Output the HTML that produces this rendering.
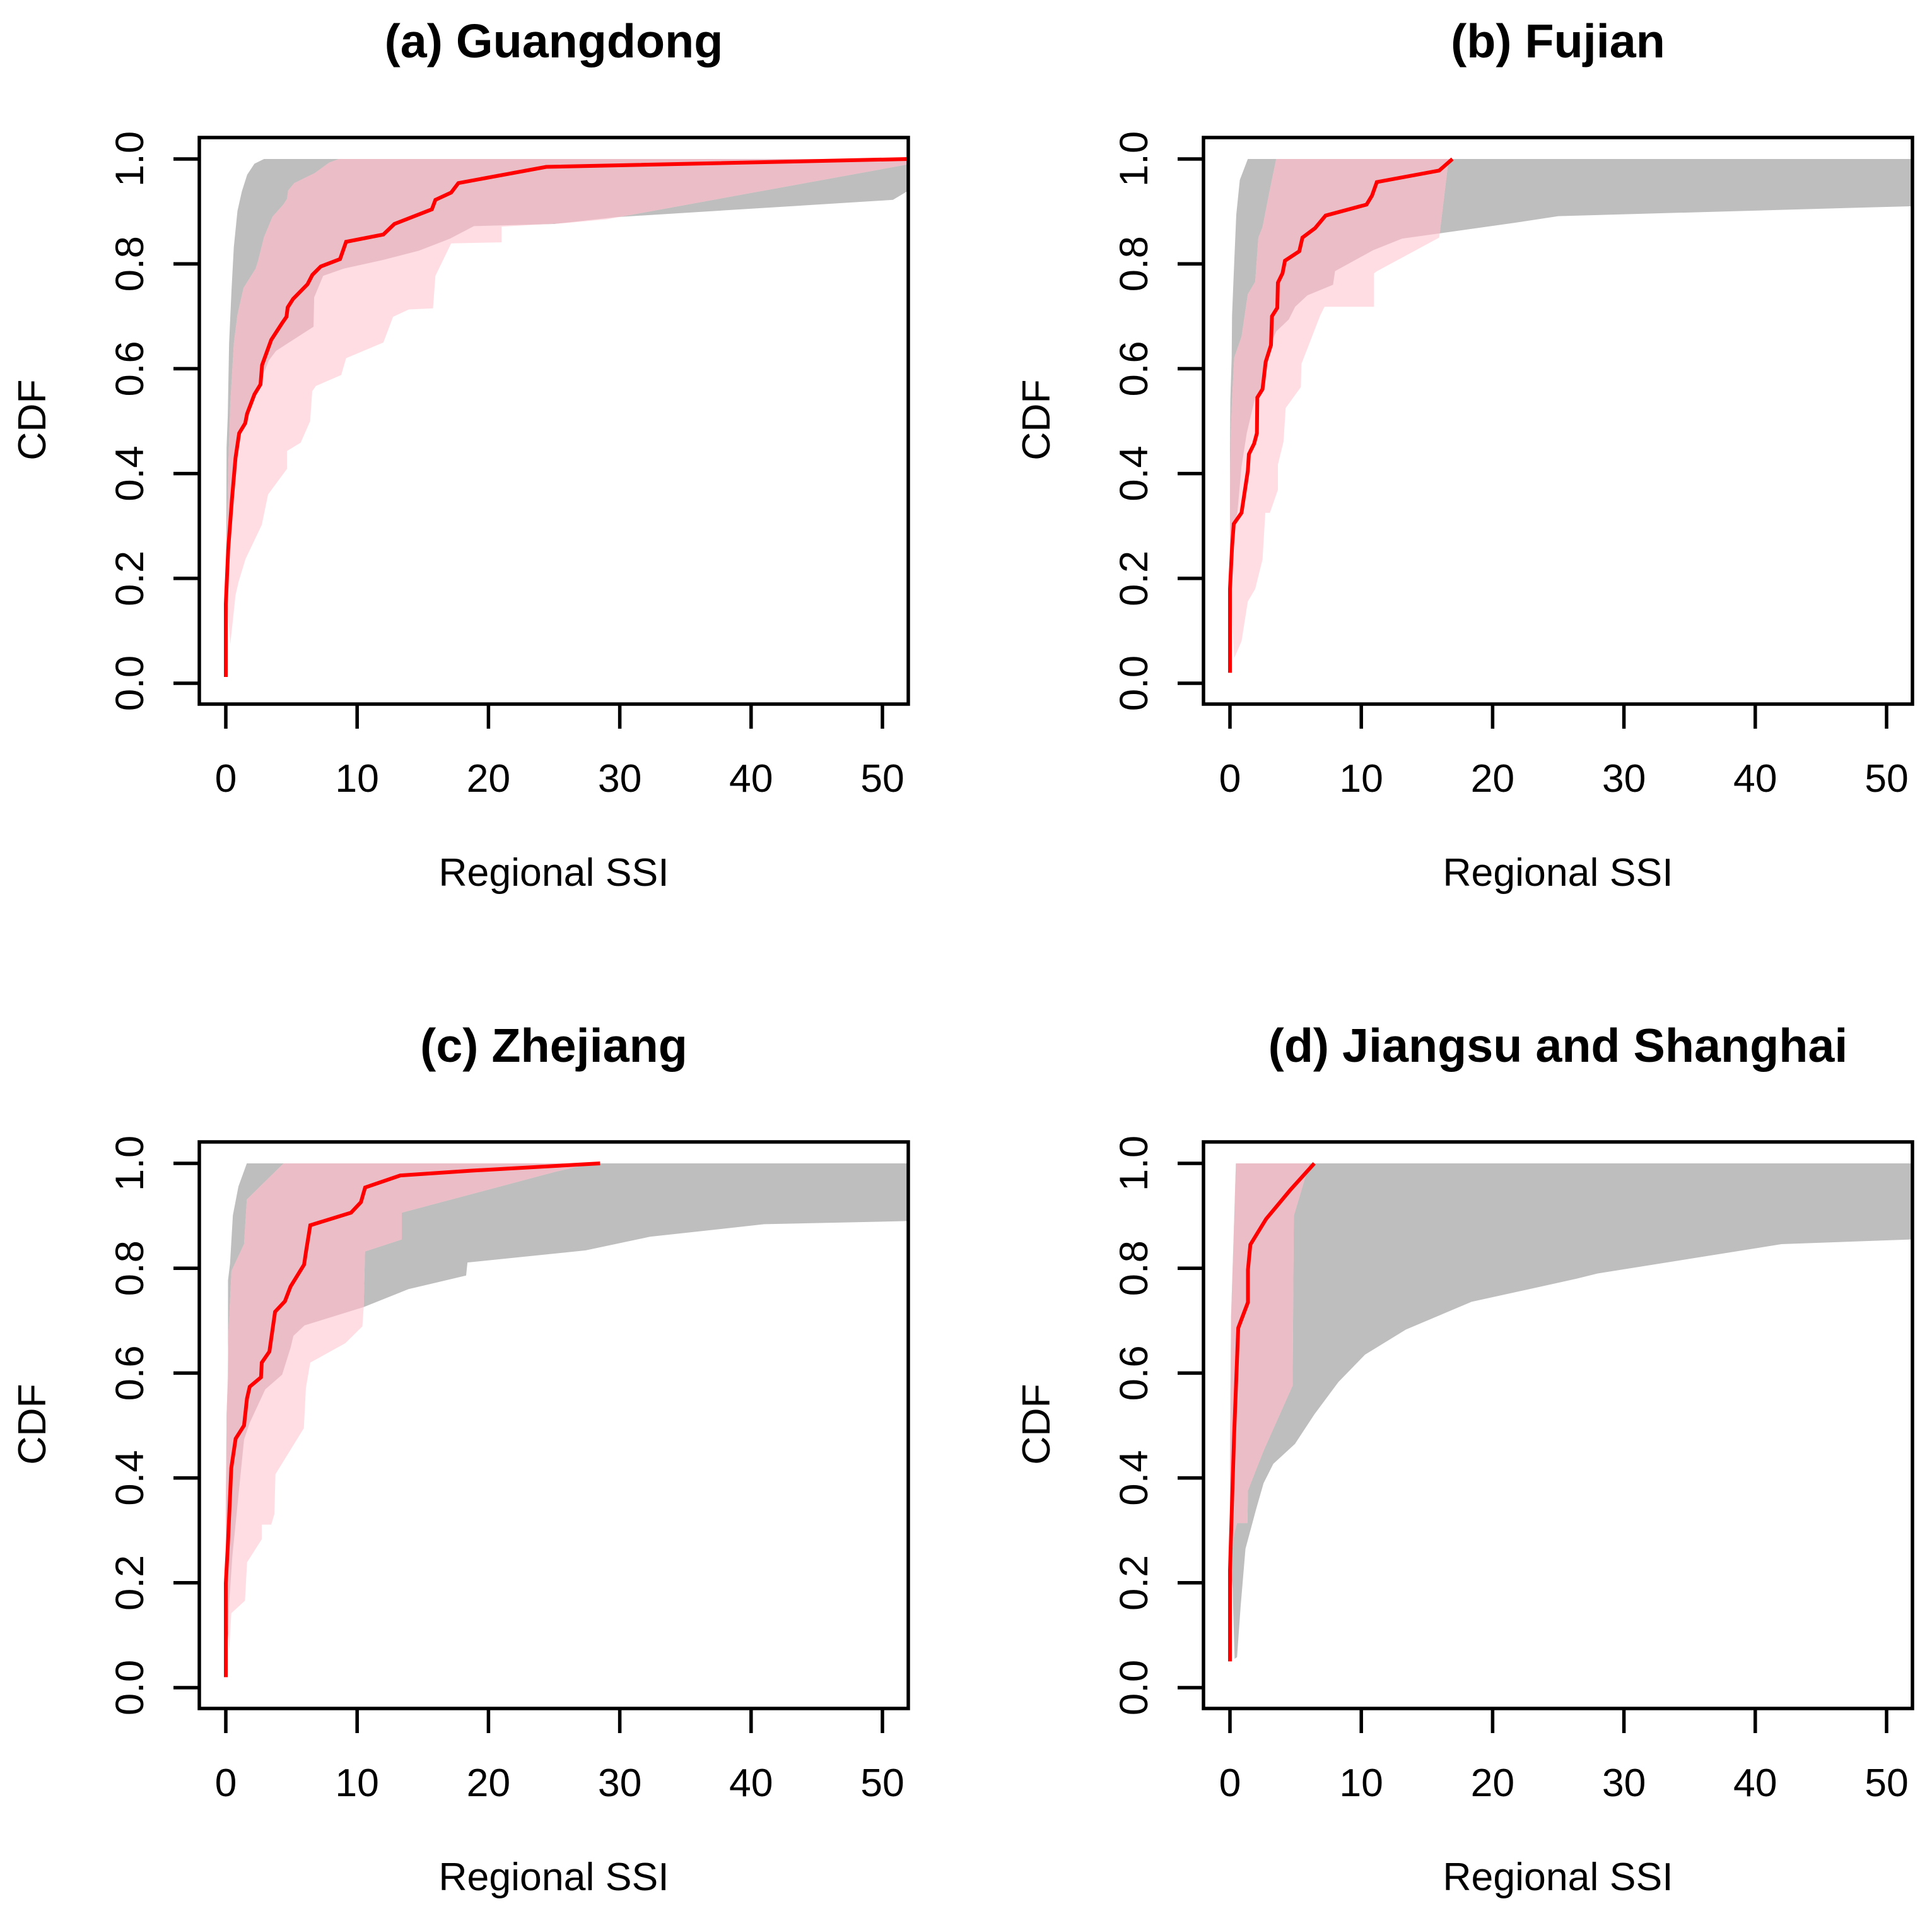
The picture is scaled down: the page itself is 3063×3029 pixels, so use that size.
<!DOCTYPE html>
<html lang="en">
<head>
<meta charset="utf-8">
<title>Regional SSI CDF by province</title>
<style>
html,body{margin:0;padding:0;background:#fff;}
svg{display:block;}
text{font-family:"Liberation Sans",Arial,sans-serif;fill:#000;}
</style>
</head>
<body>
<svg id="chart" xmlns="http://www.w3.org/2000/svg" width="3063" height="3029" viewBox="0 0 3063 3029"></svg>
<script>
const xTickValues = [0, 10, 20, 30, 40, 50];
const yTickValues = [0, 0.2, 0.4, 0.6, 0.8, 1];
const yTickLabels = ["0.0", "0.2", "0.4", "0.6", "0.8", "1.0"];

/* (a) Guangdong */
const guangdongRedX = [0,0,.18,.46,.74,1.02,1.48,1.62,2.18,2.64,2.76,3.46,4.29,4.62,4.71,5.12,6.22,6.59,7.23,8.7,9.16,12,12.84,15.69,15.96,17.16,17.71,24.4,52];
const guangdongRedY = [.012,.151,.254,.349,.43,.477,.496,.514,.551,.57,.607,.655,.687,.699,.717,.733,.761,.779,.795,.809,.842,.856,.876,.904,.922,.936,.954,.985,1];
const guangdongGrayUpperX = [.02,.04,.06,.15,.25,.43,.61,.89,1.22,1.63,2.18,2.91,52];
const guangdongGrayUpperY = [.16,.3,.45,.51,.648,.749,.832,.901,.938,.97,.991,1,1];
const guangdongGrayLowerX = [.26,.58,.82,1.22,2.02,3.28,3.83,5.12,6.68,6.73,7.41,8.98,11.9,14.7,17.07,18.9,25,29.7,50.8,52];
const guangdongGrayLowerY = [.224,.349,.43,.486,.538,.616,.634,.655,.68,.736,.777,.791,.807,.825,.848,.872,.876,.889,.922,.94];
const guangdongPinkUpperX = [.02,.19,.34,.61,.89,1.35,2.27,2.45,2.91,3.56,4.38,4.66,4.75,5.21,6.77,7.87,8.6,52];
const guangdongPinkUpperY = [.186,.418,.533,.648,.703,.754,.791,.805,.851,.89,.913,.924,.94,.954,.973,.993,1,1];
const guangdongPinkLowerX = [.34,.74,.98,1.5,2.74,3.22,4.66,4.66,5.7,6.42,6.58,6.86,8.79,9.16,12,12.74,13.94,15.78,15.96,17.16,21,21,26,29,52];
const guangdongPinkLowerY = [.074,.168,.194,.237,.302,.36,.409,.443,.459,.5,.557,.567,.588,.62,.65,.699,.713,.715,.777,.839,.841,.871,.878,.885,.99];

/* (b) Fujian */
const fujianRedX = [0,0,.16,.29,.88,1.36,1.44,1.84,2.05,2.08,2.48,2.72,3.12,3.2,3.6,3.65,4,4.19,5.28,5.52,6.48,7.28,10.4,10.81,11.18,15.93,16.94];
const fujianRedY = [.02,.18,.26,.304,.325,.405,.437,.457,.477,.545,.561,.613,.645,.7,.716,.764,.782,.806,.824,.85,.868,.892,.913,.93,.956,.978,1];
const fujianGrayUpperX = [0,0,.03,.13,.16,.32,.48,.75,1.36,52];
const fujianGrayUpperY = [.26,.461,.541,.621,.702,.802,.894,.96,1,1];
const fujianGrayLowerX = [.32,.56,.88,1.28,1.92,2.4,3.04,3.28,3.52,4.48,4.96,5.9,7.85,8,10.9,13.1,15.93,21.6,25,52];
const fujianGrayLowerY = [.304,.325,.413,.477,.545,.561,.63,.657,.671,.694,.718,.74,.76,.786,.826,.848,.858,.878,.891,.91];
const fujianPinkUpperX = [0,0,.03,.16,.32,.88,1.36,1.92,2.16,2.48,3.04,3.52,16.65];
const fujianPinkUpperY = [.216,.357,.461,.541,.621,.661,.742,.766,.85,.87,.942,1,1];
const fujianPinkLowerX = [.32,.88,1.36,1.92,2.48,2.69,3.04,3.65,3.65,4.08,4.24,5.4,5.44,6.88,7.2,10.97,10.97,11.2,15.93,16.65];
const fujianPinkLowerY = [.048,.08,.156,.18,.236,.325,.325,.369,.417,.461,.525,.565,.609,.702,.718,.718,.782,.786,.85,1];

/* (c) Zhejiang */
const zhejiangRedX = [0,0,.18,.42,.75,1.39,1.61,1.82,2.68,2.74,3.32,3.75,4.5,4.93,5.96,6.11,6.43,9.54,10.29,10.61,13.29,18.65,28.5];
const zhejiangRedY = [.02,.199,.283,.419,.475,.5,.551,.574,.592,.62,.641,.717,.737,.765,.807,.832,.882,.906,.926,.954,.977,.986,1];
const zhejiangGrayUpperX = [0,0,.06,.17,.17,.32,.54,.96,1.6,52];
const zhejiangGrayUpperY = [.16,.331,.523,.592,.777,.809,.901,.956,1,1];
const zhejiangGrayLowerX = [.18,.26,.5,.82,1.06,1.39,1.82,3,4.29,4.93,5.15,6,10.5,13.9,18.3,18.4,27.4,32.3,41,52];
const zhejiangGrayLowerY = [.09,.162,.251,.331,.391,.473,.505,.569,.597,.648,.671,.691,.726,.76,.786,.811,.834,.86,.884,.89];
const zhejiangPinkUpperX = [0,0,.06,.21,.43,1.39,1.6,4.4,27.9];
const zhejiangPinkUpperY = [.2,.362,.5,.684,.795,.846,.931,1,1];
const zhejiangPinkLowerX = [.26,.42,1.46,1.62,2.74,2.74,3.46,3.7,3.78,5.94,6.1,6.43,9.1,10.4,10.5,10.6,13.4,13.4,25.1,27.9];
const zhejiangPinkLowerY = [.07,.142,.166,.239,.283,.311,.311,.331,.407,.495,.572,.62,.657,.689,.726,.832,.855,.906,.984,1];

/* (d) Jiangsu and Shanghai */
const jiangsuRedX = [0,0,.17,.32,.63,1.37,1.37,1.55,2.75,4.58,6.42];
const jiangsuRedY = [.05,.224,.362,.486,.686,.735,.797,.845,.894,.949,1];
const jiangsuGrayUpperX = [.35,.2,0,0,.08,.26,.45,52];
const jiangsuGrayUpperY = [.055,.19,.244,.431,.707,.845,1,1];
const jiangsuGrayLowerX = [.54,.81,1.18,2,2.56,3.3,4.95,6.42,8.26,10.28,13.4,18.4,26.4,28,42,52];
const jiangsuGrayLowerY = [.058,.155,.265,.341,.39,.427,.465,.521,.583,.635,.683,.736,.78,.79,.846,.855];
const jiangsuPinkUpperX = [0,0,.08,.26,.45,6.05];
const jiangsuPinkUpperY = [.2,.431,.707,.845,1,1];
const jiangsuPinkLowerX = [.08,.32,.54,1.33,1.37,2.56,4.77,4.86,6.05];
const jiangsuPinkLowerY = [.244,.293,.314,.314,.376,.452,.576,.9,1];

const panelTitles = ["(a) Guangdong", "(b) Fujian", "(c) Zhejiang", "(d) Jiangsu and Shanghai"];
const panelSlugs = ["guangdong", "fujian", "zhejiang", "jiangsu-shanghai"];

const panels = [
  [guangdongRedX, guangdongRedY, guangdongGrayUpperX, guangdongGrayUpperY, guangdongGrayLowerX, guangdongGrayLowerY, guangdongPinkUpperX, guangdongPinkUpperY, guangdongPinkLowerX, guangdongPinkLowerY],
  [fujianRedX, fujianRedY, fujianGrayUpperX, fujianGrayUpperY, fujianGrayLowerX, fujianGrayLowerY, fujianPinkUpperX, fujianPinkUpperY, fujianPinkLowerX, fujianPinkLowerY],
  [zhejiangRedX, zhejiangRedY, zhejiangGrayUpperX, zhejiangGrayUpperY, zhejiangGrayLowerX, zhejiangGrayLowerY, zhejiangPinkUpperX, zhejiangPinkUpperY, zhejiangPinkLowerX, zhejiangPinkLowerY],
  [jiangsuRedX, jiangsuRedY, jiangsuGrayUpperX, jiangsuGrayUpperY, jiangsuGrayLowerX, jiangsuGrayLowerY, jiangsuPinkUpperX, jiangsuPinkUpperY, jiangsuPinkLowerX, jiangsuPinkLowerY]
];

const NS = "http://www.w3.org/2000/svg";
const root = document.getElementById("chart");

function mk(tag, parent, attrs) {
  const el = document.createElementNS(NS, tag);
  for (const k in attrs) el.setAttribute(k, attrs[k]);
  parent.appendChild(el);
  return el;
}

panels.forEach(function (p, i) {
  const dx = (i % 2) * 1592;
  const dy = Math.floor(i / 2) * 1592;
  const left = 316 + dx, right = 1440 + dx, top = 218 + dy, bottom = 1116 + dy;
  const sx = function (v) { return 358 + dx + 20.82 * v; };
  const sy = function (v) { return 1083 + dy - 831 * v; };
  const pts = function (xs, ys) { return xs.map(function (x, j) { return sx(x).toFixed(1) + "," + sy(ys[j]).toFixed(1); }); };
  const slug = panelSlugs[i];
  const grayPoints = pts(p[2], p[3]).concat(pts(p[4], p[5]).reverse()).join(" ");
  const pinkPoints = pts(p[6], p[7]).concat(pts(p[8], p[9]).reverse()).join(" ");

  const g = mk("g", root, {});
  
  

  const clip = mk("clipPath", g, { id: "clip-" + i });
  mk("rect", clip, { x: left, y: top, width: right - left, height: bottom - top });
  const pinkClip = mk("clipPath", g, { id: "pink-clip-" + i });
  mk("polygon", pinkClip, { points: pinkPoints });

  const plot = mk("g", g, { "clip-path": "url(#clip-" + i + ")" });
  
  

  const gray = mk("polygon", plot, { points: grayPoints, fill: "#bebebe" });
  
  

  const pink = mk("polygon", plot, { points: pinkPoints, fill: "#ffdde3" });
  
  

  const overlap = mk("polygon", plot, { points: grayPoints, fill: "#ebbec7", "clip-path": "url(#pink-clip-" + i + ")" });
  
  

  const red = mk("polyline", plot, {
    points: pts(p[0], p[1]).join(" "),
    fill: "none", stroke: "#ff0000", "stroke-width": "6", "stroke-linejoin": "miter"
  });
  
  

  const box = mk("rect", g, { x: left, y: top, width: right - left, height: bottom - top, fill: "none", stroke: "#000", "stroke-width": "5.5" });
  
  

  xTickValues.forEach(function (v) {
    const t = mk("line", g, { x1: sx(v), x2: sx(v), y1: bottom, y2: bottom + 39, stroke: "#000", "stroke-width": "5.5" });
    
    
    const l = mk("text", g, { x: sx(v), y: bottom + 139, "font-size": "62.5", "text-anchor": "middle" });
    l.textContent = String(v);
    
    
  });

  yTickValues.forEach(function (v, j) {
    const t = mk("line", g, { x1: left - 41, x2: left, y1: sy(v), y2: sy(v), stroke: "#000", "stroke-width": "5.5" });
    
    
    const lx = left - 89, ly = sy(v);
    const l = mk("text", g, { x: lx, y: ly, "font-size": "63.5", "text-anchor": "middle", transform: "rotate(-90 " + lx + " " + ly + ")" });
    l.textContent = yTickLabels[j];
    
    
  });

  const title = mk("text", g, { x: (left + right) / 2, y: top - 127, "font-size": "75.5", "font-weight": "bold", "text-anchor": "middle" });
  title.textContent = panelTitles[i];
  
  

  const xt = mk("text", g, { x: (left + right) / 2, y: bottom + 288, "font-size": "62.6", "text-anchor": "middle" });
  xt.textContent = "Regional SSI";
  
  

  const yx = left - 238, yy = sy(0.5) - 2;
  const yt = mk("text", g, { x: yx - 6, y: yy, "font-size": "62.5", "text-anchor": "middle", transform: "rotate(-90 " + (yx - 6) + " " + yy + ")" });
  yt.textContent = "CDF";
  
  
});
</script>
</body>
</html>
